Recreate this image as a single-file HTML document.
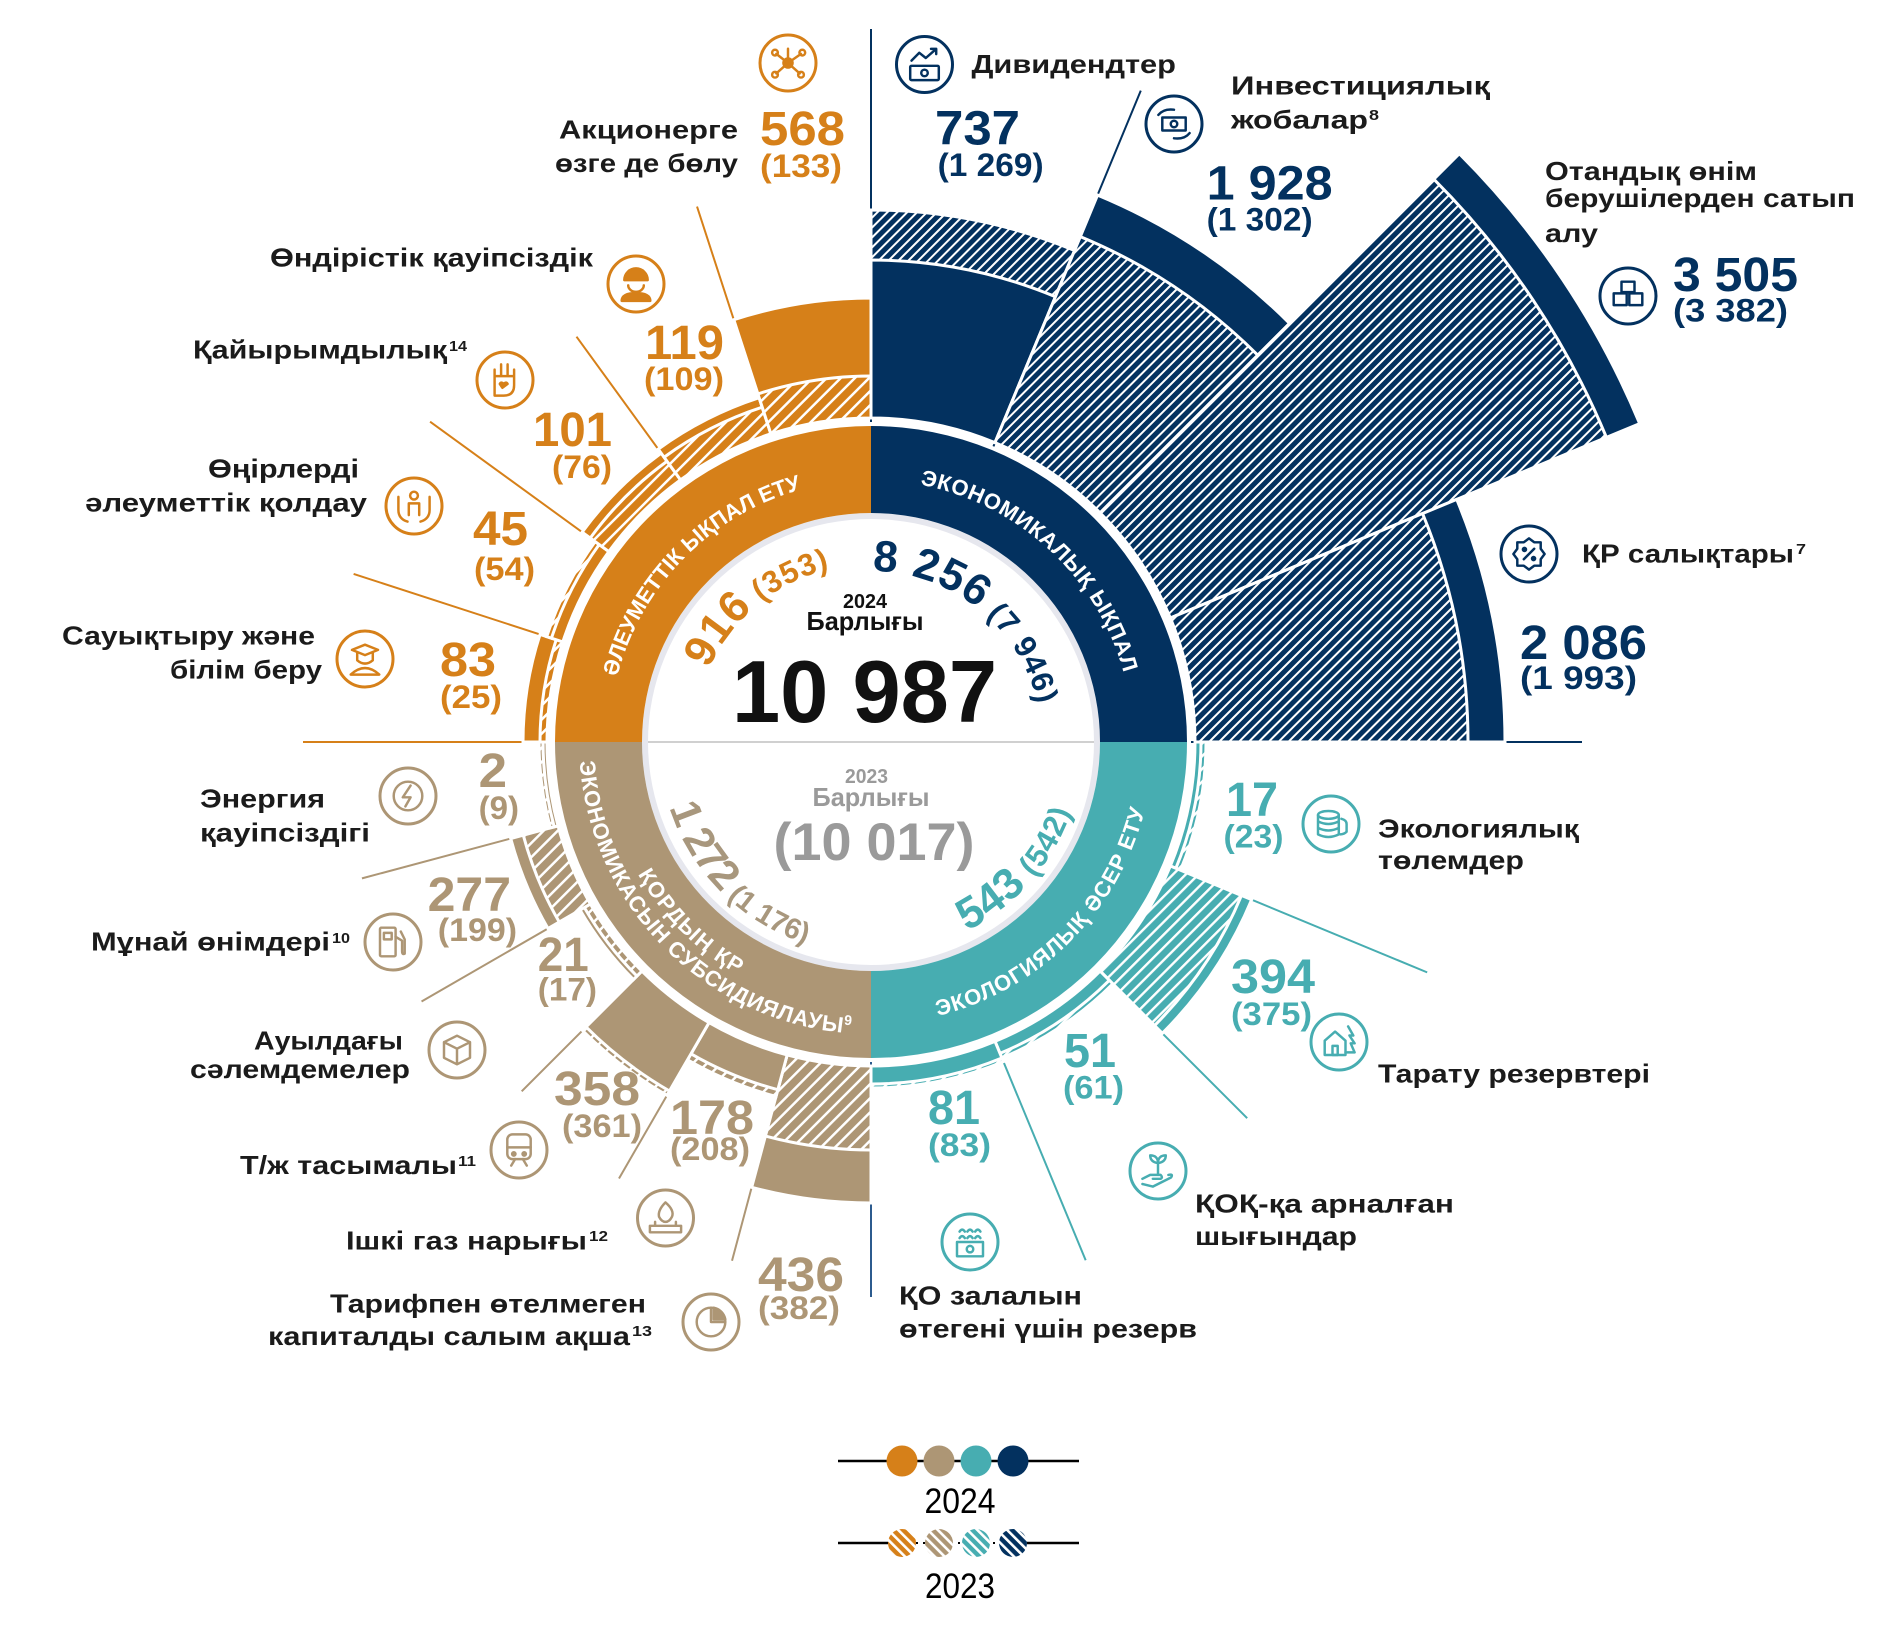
<!DOCTYPE html>
<html><head><meta charset="utf-8"><style>
html,body{margin:0;padding:0;background:#fff;}
svg{display:block;font-family:"Liberation Sans","DejaVu Sans",sans-serif;}
.l{font-size:26px;font-weight:bold;fill:#1b1b1b}
.v{font-size:48px;font-weight:bold}
.p{font-size:32px;font-weight:bold}
.s{font-size:15px;font-weight:bold;fill:#1b1b1b}
.o{fill:#d68019}.n{fill:#03315f}.t{fill:#47adb1}.b{fill:#ad9675}
.bt{font-size:22px;font-weight:bold;fill:#fff}
</style></head><body>
<svg width="1899" height="1628" viewBox="0 0 1899 1628" xmlns="http://www.w3.org/2000/svg">
<defs>
<pattern id="n270" patternUnits="userSpaceOnUse" width="7" height="7" patternTransform="rotate(135)"><rect width="7" height="7" fill="#03315f"/><rect width="2" height="7" fill="#fff"/></pattern>
<pattern id="n292" patternUnits="userSpaceOnUse" width="7" height="7" patternTransform="rotate(112.5)"><rect width="7" height="7" fill="#03315f"/><rect width="2" height="7" fill="#fff"/></pattern>
<pattern id="n315" patternUnits="userSpaceOnUse" width="7" height="7" patternTransform="rotate(90)"><rect width="7" height="7" fill="#03315f"/><rect width="2" height="7" fill="#fff"/></pattern>
<pattern id="n337" patternUnits="userSpaceOnUse" width="7" height="7" patternTransform="rotate(67.5)"><rect width="7" height="7" fill="#03315f"/><rect width="2" height="7" fill="#fff"/></pattern>
<pattern id="t0" patternUnits="userSpaceOnUse" width="9" height="9" patternTransform="rotate(45)"><rect width="9" height="9" fill="#47adb1"/><rect width="2.4" height="9" fill="#fff"/></pattern>
<pattern id="t22" patternUnits="userSpaceOnUse" width="9" height="9" patternTransform="rotate(22.5)"><rect width="9" height="9" fill="#47adb1"/><rect width="2.4" height="9" fill="#fff"/></pattern>
<pattern id="t45" patternUnits="userSpaceOnUse" width="9" height="9" patternTransform="rotate(0)"><rect width="9" height="9" fill="#47adb1"/><rect width="2.4" height="9" fill="#fff"/></pattern>
<pattern id="t67" patternUnits="userSpaceOnUse" width="9" height="9" patternTransform="rotate(-22.5)"><rect width="9" height="9" fill="#47adb1"/><rect width="2.4" height="9" fill="#fff"/></pattern>
<pattern id="b90" patternUnits="userSpaceOnUse" width="10" height="10" patternTransform="rotate(-45)"><rect width="10" height="10" fill="#ad9675"/><rect width="2.5" height="10" fill="#fff"/></pattern>
<pattern id="b105" patternUnits="userSpaceOnUse" width="10" height="10" patternTransform="rotate(-60)"><rect width="10" height="10" fill="#ad9675"/><rect width="2.5" height="10" fill="#fff"/></pattern>
<pattern id="b120" patternUnits="userSpaceOnUse" width="10" height="10" patternTransform="rotate(-75)"><rect width="10" height="10" fill="#ad9675"/><rect width="2.5" height="10" fill="#fff"/></pattern>
<pattern id="b135" patternUnits="userSpaceOnUse" width="10" height="10" patternTransform="rotate(-90)"><rect width="10" height="10" fill="#ad9675"/><rect width="2.5" height="10" fill="#fff"/></pattern>
<pattern id="b150" patternUnits="userSpaceOnUse" width="10" height="10" patternTransform="rotate(-105)"><rect width="10" height="10" fill="#ad9675"/><rect width="2.5" height="10" fill="#fff"/></pattern>
<pattern id="b165" patternUnits="userSpaceOnUse" width="10" height="10" patternTransform="rotate(-120)"><rect width="10" height="10" fill="#ad9675"/><rect width="2.5" height="10" fill="#fff"/></pattern>
<pattern id="o180" patternUnits="userSpaceOnUse" width="10" height="10" patternTransform="rotate(-135)"><rect width="10" height="10" fill="#d68019"/><rect width="2.5" height="10" fill="#fff"/></pattern>
<pattern id="o198" patternUnits="userSpaceOnUse" width="10" height="10" patternTransform="rotate(-153)"><rect width="10" height="10" fill="#d68019"/><rect width="2.5" height="10" fill="#fff"/></pattern>
<pattern id="o216" patternUnits="userSpaceOnUse" width="10" height="10" patternTransform="rotate(-171)"><rect width="10" height="10" fill="#d68019"/><rect width="2.5" height="10" fill="#fff"/></pattern>
<pattern id="o234" patternUnits="userSpaceOnUse" width="10" height="10" patternTransform="rotate(-189)"><rect width="10" height="10" fill="#d68019"/><rect width="2.5" height="10" fill="#fff"/></pattern>
<pattern id="o252" patternUnits="userSpaceOnUse" width="10" height="10" patternTransform="rotate(-207)"><rect width="10" height="10" fill="#d68019"/><rect width="2.5" height="10" fill="#fff"/></pattern>
<pattern id="lo" patternUnits="userSpaceOnUse" width="7" height="7" patternTransform="rotate(-45)"><rect width="7" height="7" fill="#d68019"/><rect width="2.6" height="7" fill="#fff"/></pattern>
<pattern id="lb" patternUnits="userSpaceOnUse" width="7" height="7" patternTransform="rotate(-45)"><rect width="7" height="7" fill="#ad9675"/><rect width="2.6" height="7" fill="#fff"/></pattern>
<pattern id="lt" patternUnits="userSpaceOnUse" width="7" height="7" patternTransform="rotate(-45)"><rect width="7" height="7" fill="#47adb1"/><rect width="2.6" height="7" fill="#fff"/></pattern>
<pattern id="ln" patternUnits="userSpaceOnUse" width="7" height="7" patternTransform="rotate(-45)"><rect width="7" height="7" fill="#03315f"/><rect width="2.6" height="7" fill="#fff"/></pattern>
<path id="tpSoc" d="M-199.23 170.16A262 262 0 0 1 166.65 -202.16"/>
<path id="tpEco" d="M-175.99 -194.09A262 262 0 0 1 207.02 160.58"/>
<path id="tpEnv" d="M-181.27 216.02A282 282 0 0 0 216.02 -181.27"/>
<path id="tpSub1" d="M-205.30 -172.27A268 268 0 0 0 172.27 205.30"/>
<path id="tpSub2" d="M-223.68 -187.69A292 292 0 0 0 187.69 223.68"/>
<path id="tp916" d="M-146.70 100.82A178 178 0 0 1 126.96 -124.76"/>
<path id="tp8256" d="M-123.01 -118.79A171 171 0 0 1 141.77 95.62"/>
<path id="tp1272" d="M-162.40 -136.27A212 212 0 0 0 136.27 162.40"/>
<path id="tp543" d="M-124.61 171.51A212 212 0 0 0 152.50 -147.27"/>
</defs>

<rect width="1899" height="1628" fill="#fff"/>

<g transform="translate(871 742)">
  <g stroke="#d68019" stroke-width="2">
    <line x1="330" y1="0" x2="563" y2="0" transform="rotate(252)"/>
    <line x1="330" y1="0" x2="501" y2="0" transform="rotate(234)"/>
    <line x1="330" y1="0" x2="545" y2="0" transform="rotate(216)"/>
    <line x1="330" y1="0" x2="544" y2="0" transform="rotate(198)"/>
    <line x1="330" y1="0" x2="568" y2="0" transform="rotate(180)"/>
  </g>
  <g stroke="#ad9675" stroke-width="2">
    <line x1="330" y1="0" x2="527" y2="0" transform="rotate(165)"/>
    <line x1="330" y1="0" x2="519" y2="0" transform="rotate(150)"/>
    <line x1="330" y1="0" x2="494" y2="0" transform="rotate(135)"/>
    <line x1="330" y1="0" x2="504" y2="0" transform="rotate(120)"/>
    <line x1="330" y1="0" x2="537" y2="0" transform="rotate(105)"/>
  </g>
  <line x1="320" y1="0" x2="555" y2="0" transform="rotate(90)" stroke="#2c5b8e" stroke-width="2"/>
  <g stroke="#47adb1" stroke-width="2">
    <line x1="330" y1="0" x2="602" y2="0" transform="rotate(22.5)"/>
    <line x1="330" y1="0" x2="532" y2="0" transform="rotate(45)"/>
    <line x1="330" y1="0" x2="561" y2="0" transform="rotate(67.5)"/>
  </g>
  <g stroke="#03315f" stroke-width="2">
    <line x1="320" y1="0" x2="713" y2="0" transform="rotate(270)"/>
    <line x1="320" y1="0" x2="705" y2="0" transform="rotate(292.5)"/>
    <line x1="320" y1="0" x2="711" y2="0"/>
  </g>

  <circle r="229" fill="#e6e7ee"/>
  <circle r="223" fill="#fff"/>
  <line x1="-223" y1="0" x2="223" y2="0" stroke="#b3b3b3" stroke-width="1.2"/>

  <path d="M229 0L316 0A316 316 0 0 1 0 316L0 229A229 229 0 0 0 229 0Z" fill="#47adb1"/>
  <path d="M229 0L316 0A316 316 0 0 1 0 316L0 229A229 229 0 0 0 229 0Z" fill="#ad9675" transform="rotate(90)"/>
  <path d="M229 0L316 0A316 316 0 0 1 0 316L0 229A229 229 0 0 0 229 0Z" fill="#d68019" transform="rotate(180)"/>
  <path d="M229 0L316 0A316 316 0 0 1 0 316L0 229A229 229 0 0 0 229 0Z" fill="#03315f" transform="rotate(270)"/>

  <g stroke="#fff" stroke-width="3" stroke-linejoin="miter">
    <path transform="rotate(270)" fill="url(#n270)" d="M324 0L532 0A532 532 0 0 1 491.50 203.59L299.34 123.99A324 324 0 0 0 324 0Z"/>
    <path transform="rotate(270)" fill="#03315f" d="M324 0L482 0A482 482 0 0 1 445.31 184.45L299.34 123.99A324 324 0 0 0 324 0Z"/>
    <path transform="rotate(292.5)" fill="#03315f" d="M324 0L592 0A592 592 0 0 1 546.94 226.55L299.34 123.99A324 324 0 0 0 324 0Z"/>
    <path transform="rotate(292.5)" fill="url(#n292)" d="M324 0L547 0A547 547 0 0 1 505.36 209.33L299.34 123.99A324 324 0 0 0 324 0Z"/>
    <path transform="rotate(315)" fill="#03315f" d="M324 0L832 0A832 832 0 0 1 768.67 318.39L299.34 123.99A324 324 0 0 0 324 0Z"/>
    <path transform="rotate(315)" fill="url(#n315)" d="M324 0L796 0A796 796 0 0 1 735.41 304.62L299.34 123.99A324 324 0 0 0 324 0Z"/>
    <path transform="rotate(337.5)" fill="#03315f" d="M324 0L634 0A634 634 0 0 1 585.74 242.62L299.34 123.99A324 324 0 0 0 324 0Z"/>
    <path transform="rotate(337.5)" fill="url(#n337)" d="M324 0L597 0A597 597 0 0 1 551.56 228.46L299.34 123.99A324 324 0 0 0 324 0Z"/>
    <path transform="rotate(0)" fill="url(#t0)" d="M324 0L335 0A335 335 0 0 1 309.50 128.20L299.34 123.99A324 324 0 0 0 324 0Z"/>
    <path transform="rotate(0)" fill="#47adb1" d="M324 0L330 0A330 330 0 0 1 304.88 126.29L299.34 123.99A324 324 0 0 0 324 0Z"/>
    <path transform="rotate(22.5)" fill="#47adb1" d="M324 0L412 0A412 412 0 0 1 380.64 157.67L299.34 123.99A324 324 0 0 0 324 0Z"/>
    <path transform="rotate(22.5)" fill="url(#t22)" d="M324 0L401 0A401 401 0 0 1 370.48 153.46L299.34 123.99A324 324 0 0 0 324 0Z"/>
    <path transform="rotate(45)" fill="url(#t45)" d="M324 0L342 0A342 342 0 0 1 315.97 130.88L299.34 123.99A324 324 0 0 0 324 0Z"/>
    <path transform="rotate(45)" fill="#47adb1" d="M324 0L337 0A337 337 0 0 1 311.35 128.96L299.34 123.99A324 324 0 0 0 324 0Z"/>
    <path transform="rotate(67.5)" fill="url(#t67)" d="M324 0L346 0A346 346 0 0 1 319.66 132.41L299.34 123.99A324 324 0 0 0 324 0Z"/>
    <path transform="rotate(67.5)" fill="#47adb1" d="M324 0L342 0A342 342 0 0 1 315.97 130.88L299.34 123.99A324 324 0 0 0 324 0Z"/>
    <path transform="rotate(90)" fill="#ad9675" d="M324 0L461 0A461 461 0 0 1 445.29 119.32L312.96 83.86A324 324 0 0 0 324 0Z"/>
    <path transform="rotate(90)" fill="url(#b90)" d="M324 0L408 0A408 408 0 0 1 394.10 105.60L312.96 83.86A324 324 0 0 0 324 0Z"/>
    <path transform="rotate(105)" fill="url(#b105)" d="M324 0L367 0A367 367 0 0 1 354.49 94.99L312.96 83.86A324 324 0 0 0 324 0Z"/>
    <path transform="rotate(105)" fill="#ad9675" d="M324 0L360 0A360 360 0 0 1 347.73 93.17L312.96 83.86A324 324 0 0 0 324 0Z"/>
    <path transform="rotate(120)" fill="url(#b120)" d="M324 0L408 0A408 408 0 0 1 394.10 105.60L312.96 83.86A324 324 0 0 0 324 0Z"/>
    <path transform="rotate(120)" fill="#ad9675" d="M324 0L403 0A403 403 0 0 1 389.27 104.30L312.96 83.86A324 324 0 0 0 324 0Z"/>
    <path transform="rotate(135)" fill="#ad9675" d="M324 0L336 0A336 336 0 0 1 324.55 86.96L312.96 83.86A324 324 0 0 0 324 0Z"/>
    <path transform="rotate(135)" fill="url(#b135)" d="M324 0L331 0A331 331 0 0 1 319.72 85.67L312.96 83.86A324 324 0 0 0 324 0Z"/>
    <path transform="rotate(150)" fill="#ad9675" d="M324 0L373 0A373 373 0 0 1 360.29 96.54L312.96 83.86A324 324 0 0 0 324 0Z"/>
    <path transform="rotate(150)" fill="url(#b150)" d="M324 0L360 0A360 360 0 0 1 347.73 93.17L312.96 83.86A324 324 0 0 0 324 0Z"/>
    <path transform="rotate(165)" fill="url(#b165)" d="M324 0L332 0A332 332 0 0 1 320.69 85.93L312.96 83.86A324 324 0 0 0 324 0Z"/>
    <path transform="rotate(165)" fill="#ad9675" d="M324 0L328 0A328 328 0 0 1 316.82 84.89L312.96 83.86A324 324 0 0 0 324 0Z"/>
    <path transform="rotate(180)" fill="#d68019" d="M324 0L348 0A348 348 0 0 1 330.97 107.54L308.14 100.12A324 324 0 0 0 324 0Z"/>
    <path transform="rotate(180)" fill="url(#o180)" d="M324 0L331 0A331 331 0 0 1 314.80 102.28L308.14 100.12A324 324 0 0 0 324 0Z"/>
    <path transform="rotate(198)" fill="url(#o198)" d="M324 0L341 0A341 341 0 0 1 324.31 105.37L308.14 100.12A324 324 0 0 0 324 0Z"/>
    <path transform="rotate(198)" fill="#d68019" d="M324 0L336 0A336 336 0 0 1 319.55 103.83L308.14 100.12A324 324 0 0 0 324 0Z"/>
    <path transform="rotate(216)" fill="#d68019" d="M324 0L357 0A357 357 0 0 1 339.53 110.32L308.14 100.12A324 324 0 0 0 324 0Z"/>
    <path transform="rotate(216)" fill="url(#o216)" d="M324 0L347 0A347 347 0 0 1 330.02 107.23L308.14 100.12A324 324 0 0 0 324 0Z"/>
    <path transform="rotate(234)" fill="#d68019" d="M324 0L362 0A362 362 0 0 1 344.28 111.86L308.14 100.12A324 324 0 0 0 324 0Z"/>
    <path transform="rotate(234)" fill="url(#o234)" d="M324 0L352 0A352 352 0 0 1 334.77 108.77L308.14 100.12A324 324 0 0 0 324 0Z"/>
    <path transform="rotate(252)" fill="#d68019" d="M324 0L444 0A444 444 0 0 1 422.27 137.20L308.14 100.12A324 324 0 0 0 324 0Z"/>
    <path transform="rotate(252)" fill="url(#o252)" d="M324 0L366 0A366 366 0 0 1 348.09 113.10L308.14 100.12A324 324 0 0 0 324 0Z"/>
  </g>

  <text class="bt" text-anchor="middle"><textPath href="#tpSoc" startOffset="50%">ӘЛЕУМЕТТІК ЫҚПАЛ ЕТУ</textPath></text>
  <text class="bt" text-anchor="middle" letter-spacing="0.6"><textPath href="#tpEco" startOffset="50%">ЭКОНОМИКАЛЫҚ ЫҚПАЛ</textPath></text>
  <text class="bt" text-anchor="middle" letter-spacing="1"><textPath href="#tpEnv" startOffset="50%">ЭКОЛОГИЯЛЫҚ ӘСЕР ЕТУ</textPath></text>
  <text class="bt" text-anchor="middle" letter-spacing="1.5"><textPath href="#tpSub1" startOffset="50%">ҚОРДЫҢ ҚР</textPath></text>
  <text class="bt" text-anchor="middle" letter-spacing="0.8"><textPath href="#tpSub2" startOffset="50%">ЭКОНОМИКАСЫН СУБСИДИЯЛАУЫ<tspan font-size="14" dy="-8">9</tspan></textPath></text>

  <text font-weight="bold" fill="#d68019" text-anchor="middle" letter-spacing="1"><textPath href="#tp916" startOffset="50%"><tspan font-size="44">916</tspan><tspan font-size="31"> (353)</tspan></textPath></text>
  <text font-weight="bold" fill="#03315f" text-anchor="middle" letter-spacing="1"><textPath href="#tp8256" startOffset="50%"><tspan font-size="44">8 256</tspan><tspan font-size="31"> (7 946)</tspan></textPath></text>
  <text font-weight="bold" fill="#a8977d" text-anchor="middle"><textPath href="#tp1272" startOffset="50%"><tspan font-size="42" letter-spacing="-1">1 272</tspan><tspan font-size="29"> (1 176)</tspan></textPath></text>
  <text font-weight="bold" fill="#47adb1" text-anchor="middle" letter-spacing="1"><textPath href="#tp543" startOffset="50%"><tspan font-size="44">543</tspan><tspan font-size="31"> (542)</tspan></textPath></text>
</g>

<text x="865" y="608" font-size="20" font-weight="bold" fill="#111" text-anchor="middle" textLength="44" lengthAdjust="spacingAndGlyphs">2024</text>
<text x="865" y="630" font-size="26" font-weight="bold" fill="#111" text-anchor="middle" textLength="117" lengthAdjust="spacingAndGlyphs">Барлығы</text>
<text x="864.5" y="722" font-size="88" font-weight="bold" fill="#111" text-anchor="middle" textLength="265" lengthAdjust="spacingAndGlyphs">10 987</text>
<text x="866.5" y="783" font-size="20" font-weight="bold" fill="#9a9a9a" text-anchor="middle" textLength="43" lengthAdjust="spacingAndGlyphs">2023</text>
<text x="871" y="806" font-size="26" font-weight="bold" fill="#9a9a9a" text-anchor="middle" textLength="117" lengthAdjust="spacingAndGlyphs">Барлығы</text>
<text x="874" y="860" font-size="53" font-weight="bold" fill="#9a9a9a" text-anchor="middle" textLength="201" lengthAdjust="spacingAndGlyphs">(10 017)</text>

<g>
<text class="l" x="559" y="138.5" textLength="179" lengthAdjust="spacingAndGlyphs">Акционерге</text>
<text class="l" x="555" y="172" textLength="183" lengthAdjust="spacingAndGlyphs">өзге де бөлу</text>
<text class="v o" x="760" y="145" textLength="85" lengthAdjust="spacingAndGlyphs">568</text>
<text class="p o" x="760" y="177" textLength="82" lengthAdjust="spacingAndGlyphs">(133)</text>
<text class="l" x="270" y="266.5" textLength="323" lengthAdjust="spacingAndGlyphs">Өндірістік қауіпсіздік</text>
<text class="v o" x="645" y="359" textLength="79" lengthAdjust="spacingAndGlyphs">119</text>
<text class="p o" x="644" y="390" textLength="80" lengthAdjust="spacingAndGlyphs">(109)</text>
<text class="l" x="193" y="358.5" textLength="254" lengthAdjust="spacingAndGlyphs">Қайырымдылық</text>
<text class="s" x="449" y="351" textLength="18" lengthAdjust="spacingAndGlyphs">14</text>
<text class="v o" x="533" y="446" textLength="79" lengthAdjust="spacingAndGlyphs">101</text>
<text class="p o" x="552" y="478" textLength="60" lengthAdjust="spacingAndGlyphs">(76)</text>
<text class="l" x="208" y="477.5" textLength="151" lengthAdjust="spacingAndGlyphs">Өңірлерді</text>
<text class="l" x="85" y="511.5" textLength="282" lengthAdjust="spacingAndGlyphs">әлеуметтік қолдау</text>
<text class="v o" x="473" y="545" textLength="55" lengthAdjust="spacingAndGlyphs">45</text>
<text class="p o" x="474" y="580" textLength="61" lengthAdjust="spacingAndGlyphs">(54)</text>
<text class="l" x="62" y="644.5" textLength="253" lengthAdjust="spacingAndGlyphs">Сауықтыру және</text>
<text class="l" x="170" y="678.5" textLength="152" lengthAdjust="spacingAndGlyphs">білім беру</text>
<text class="v o" x="440" y="676" textLength="56" lengthAdjust="spacingAndGlyphs">83</text>
<text class="p o" x="440" y="708" textLength="62" lengthAdjust="spacingAndGlyphs">(25)</text>

<text class="l" x="971.5" y="73" textLength="204.5" lengthAdjust="spacingAndGlyphs">Дивидендтер</text>
<text class="v n" x="935" y="144.5" textLength="85" lengthAdjust="spacingAndGlyphs">737</text>
<text class="p n" x="937.6" y="176" textLength="106" lengthAdjust="spacingAndGlyphs">(1 269)</text>
<text class="l" x="1231" y="94.5" textLength="259" lengthAdjust="spacingAndGlyphs">Инвестициялық</text>
<text class="l" x="1231" y="128.5" textLength="137" lengthAdjust="spacingAndGlyphs">жобалар</text>
<text class="s" x="1369" y="120" textLength="10" lengthAdjust="spacingAndGlyphs">8</text>
<text class="v n" x="1206.6" y="199.5" textLength="126" lengthAdjust="spacingAndGlyphs">1 928</text>
<text class="p n" x="1206.6" y="230.5" textLength="106" lengthAdjust="spacingAndGlyphs">(1 302)</text>
<text class="l" x="1545" y="180" textLength="212" lengthAdjust="spacingAndGlyphs">Отандық өнім</text>
<text class="l" x="1545" y="207" textLength="310" lengthAdjust="spacingAndGlyphs">берушілерден сатып</text>
<text class="l" x="1545" y="242" textLength="53" lengthAdjust="spacingAndGlyphs">алу</text>
<text class="v n" x="1673" y="291" textLength="125" lengthAdjust="spacingAndGlyphs">3 505</text>
<text class="p n" x="1673" y="321.6" textLength="115" lengthAdjust="spacingAndGlyphs">(3 382)</text>
<text class="l" x="1582" y="562.5" textLength="212" lengthAdjust="spacingAndGlyphs">ҚР салықтары</text>
<text class="s" x="1796" y="554" textLength="10" lengthAdjust="spacingAndGlyphs">7</text>
<text class="v n" x="1520" y="659" textLength="127" lengthAdjust="spacingAndGlyphs">2 086</text>
<text class="p n" x="1520" y="689" textLength="117" lengthAdjust="spacingAndGlyphs">(1 993)</text>

<text class="v t" x="1226" y="816" textLength="52" lengthAdjust="spacingAndGlyphs">17</text>
<text class="p t" x="1223.5" y="847.5" textLength="60" lengthAdjust="spacingAndGlyphs">(23)</text>
<text class="l" x="1378" y="837.5" textLength="201" lengthAdjust="spacingAndGlyphs">Экологиялық</text>
<text class="l" x="1378" y="869" textLength="146" lengthAdjust="spacingAndGlyphs">төлемдер</text>
<text class="v t" x="1231" y="993" textLength="84" lengthAdjust="spacingAndGlyphs">394</text>
<text class="p t" x="1231" y="1025" textLength="81" lengthAdjust="spacingAndGlyphs">(375)</text>
<text class="l" x="1378" y="1082.5" textLength="272" lengthAdjust="spacingAndGlyphs">Тарату резервтері</text>
<text class="v t" x="1064" y="1067" textLength="52" lengthAdjust="spacingAndGlyphs">51</text>
<text class="p t" x="1063" y="1098.5" textLength="61" lengthAdjust="spacingAndGlyphs">(61)</text>
<text class="v t" x="928" y="1124" textLength="52" lengthAdjust="spacingAndGlyphs">81</text>
<text class="p t" x="928" y="1156" textLength="63" lengthAdjust="spacingAndGlyphs">(83)</text>
<text class="l" x="1195" y="1212.5" textLength="259" lengthAdjust="spacingAndGlyphs">ҚОҚ-қа арналған</text>
<text class="l" x="1195" y="1245" textLength="162" lengthAdjust="spacingAndGlyphs">шығындар</text>
<text class="l" x="899" y="1304.5" textLength="183" lengthAdjust="spacingAndGlyphs">ҚО залалын</text>
<text class="l" x="899" y="1337.5" textLength="298" lengthAdjust="spacingAndGlyphs">өтегені үшін резерв</text>

<text class="v b" x="478.6" y="787" textLength="28.4" lengthAdjust="spacingAndGlyphs">2</text>
<text class="p b" x="478.6" y="819" textLength="40.4" lengthAdjust="spacingAndGlyphs">(9)</text>
<text class="l" x="200" y="807.5" textLength="125" lengthAdjust="spacingAndGlyphs">Энергия</text>
<text class="l" x="200" y="841.5" textLength="170" lengthAdjust="spacingAndGlyphs">қауіпсіздігі</text>
<text class="v b" x="427.6" y="911" textLength="83.4" lengthAdjust="spacingAndGlyphs">277</text>
<text class="p b" x="437.8" y="941" textLength="79.2" lengthAdjust="spacingAndGlyphs">(199)</text>
<text class="l" x="91" y="950.5" textLength="239" lengthAdjust="spacingAndGlyphs">Мұнай өнімдері</text>
<text class="s" x="332" y="943" textLength="18" lengthAdjust="spacingAndGlyphs">10</text>
<text class="v b" x="537.8" y="971" textLength="51" lengthAdjust="spacingAndGlyphs">21</text>
<text class="p b" x="537.8" y="1000.6" textLength="59.2" lengthAdjust="spacingAndGlyphs">(17)</text>
<text class="l" x="254" y="1049.5" textLength="149" lengthAdjust="spacingAndGlyphs">Ауылдағы</text>
<text class="l" x="190" y="1078" textLength="220" lengthAdjust="spacingAndGlyphs">сәлемдемелер</text>
<text class="v b" x="554" y="1105" textLength="86" lengthAdjust="spacingAndGlyphs">358</text>
<text class="p b" x="562" y="1137" textLength="80" lengthAdjust="spacingAndGlyphs">(361)</text>
<text class="l" x="240" y="1174" textLength="217" lengthAdjust="spacingAndGlyphs">Т/ж тасымалы</text>
<text class="s" x="458" y="1166" textLength="18" lengthAdjust="spacingAndGlyphs">11</text>
<text class="v b" x="670" y="1134" textLength="84" lengthAdjust="spacingAndGlyphs">178</text>
<text class="p b" x="670" y="1160" textLength="80" lengthAdjust="spacingAndGlyphs">(208)</text>
<text class="l" x="346" y="1249.5" textLength="241" lengthAdjust="spacingAndGlyphs">Ішкі газ нарығы</text>
<text class="s" x="589" y="1241" textLength="19" lengthAdjust="spacingAndGlyphs">12</text>
<text class="v b" x="758" y="1291" textLength="86" lengthAdjust="spacingAndGlyphs">436</text>
<text class="p b" x="758" y="1319" textLength="82" lengthAdjust="spacingAndGlyphs">(382)</text>
<text class="l" x="330" y="1312.5" textLength="316" lengthAdjust="spacingAndGlyphs">Тарифпен өтелмеген</text>
<text class="l" x="268" y="1345" textLength="362" lengthAdjust="spacingAndGlyphs">капиталды салым ақша</text>
<text class="s" x="632" y="1336" textLength="20" lengthAdjust="spacingAndGlyphs">13</text>
</g>

<g fill="none" stroke-linecap="round" stroke-linejoin="round">
 <g transform="translate(788 63)" stroke="#d68019"><circle r="28" stroke-width="3" fill="#fff"/><g transform="scale(1.3)" stroke-width="1.9"><circle r="3.5" fill="#d68019"/><path d="M0 0L-9 -7M0 0L10 -7M0 0L-9 8M0 0L9 8M0 0L0 -11"/><circle cx="-10" cy="-8" r="2.2"/><circle cx="11" cy="-8" r="2.2"/><circle cx="-10" cy="9" r="2.2"/><circle cx="10" cy="9" r="2.2"/></g></g>
 <g transform="translate(636 284)" stroke="#d68019"><circle r="28" stroke-width="3" fill="#fff"/><g transform="scale(1.3)" stroke-width="1.9"><path d="M-9 -3A9 9 0 0 1 9 -3Z" fill="#d68019"/><path d="M-6 1A6 5 0 0 0 6 1"/><path d="M-11 13Q-11 7 0 7Q11 7 11 13Z" fill="#d68019"/></g></g>
 <g transform="translate(505 380)" stroke="#d68019"><circle r="28" stroke-width="3" fill="#fff"/><g transform="scale(1.3)" stroke-width="1.9"><path d="M-8 11V-8M-3 -3V-12M2 -3V-12M7 -3V-8M-8 -3H7V4Q7 12 -1 12H-8Z"/><path d="M-2 6L-4 3Q-3 1 -1 3Q1 1 2 3Z" fill="#d68019"/></g></g>
 <g transform="translate(414 506)" stroke="#d68019"><circle r="28" stroke-width="3" fill="#fff"/><g transform="scale(1.3)" stroke-width="1.9"><circle cx="0" cy="-8" r="3"/><path d="M-4 7V-2H4V7M-12 -7V3Q-12 10 -5 12M12 -7V3Q12 10 5 12"/></g></g>
 <g transform="translate(365 659)" stroke="#d68019"><circle r="28" stroke-width="3" fill="#fff"/><g transform="scale(1.3)" stroke-width="1.9"><path d="M-10 -7L0 -11L10 -7L0 -3Z"/><path d="M-6 -5V1Q0 6 6 1V-5"/><path d="M-11 12Q0 2 11 12Z"/></g></g>
 <g transform="translate(924.5 64.5)" stroke="#03315f"><circle r="28" stroke-width="3" fill="#fff"/><g transform="scale(1.3)" stroke-width="1.9"><rect x="-11" y="1" width="22" height="11" rx="1"/><circle cx="0" cy="6.5" r="2.5"/><path d="M-10 -3L-4 -9L1 -5L9 -12M5 -12H9V-8"/></g></g>
 <g transform="translate(1174 124)" stroke="#03315f"><circle r="28" stroke-width="3" fill="#fff"/><g transform="scale(1.3)" stroke-width="1.9"><rect x="-9" y="-5" width="18" height="10"/><circle r="2.5"/><path d="M-12 -7Q-8 -12 0 -11M12 7Q8 12 0 11"/></g></g>
 <g transform="translate(1628 296)" stroke="#03315f"><circle r="28" stroke-width="3" fill="#fff"/><g transform="scale(1.3)" stroke-width="1.9"><rect x="-5" y="-11" width="10" height="8"/><rect x="-11" y="-2" width="10" height="9"/><rect x="1" y="-2" width="10" height="9"/></g></g>
 <g transform="translate(1529 554)" stroke="#03315f"><circle r="28" stroke-width="3" fill="#fff"/><g transform="scale(1.3)" stroke-width="1.9"><path d="M0 -12L4 -9L9 -9L9 -4L12 0L9 4L9 9L4 9L0 12L-4 9L-9 9L-9 4L-12 0L-9 -4L-9 -9L-4 -9Z"/><path d="M-4 4L4 -4"/><circle cx="-3.5" cy="-3.5" r="1.2" fill="#03315f"/><circle cx="3.5" cy="3.5" r="1.2" fill="#03315f"/></g></g>
 <g transform="translate(1331 824)" stroke="#47adb1"><circle r="28" stroke-width="3" fill="#fff"/><g transform="scale(1.3)" stroke-width="1.9"><ellipse cx="-2" cy="-7" rx="8" ry="3"/><path d="M-10 -7V8Q-2 12 6 8V-7M-10 -2Q-2 2 6 -2M-10 3Q-2 7 6 3M8 -4Q12 -3 12 0V6Q10 8 7 8"/></g></g>
 <g transform="translate(1339 1042)" stroke="#47adb1"><circle r="28" stroke-width="3" fill="#fff"/><g transform="scale(1.3)" stroke-width="1.9"><path d="M-11 10V-1L-3 -8L5 -1V10Z"/><path d="M7 -12L11 -5H8L12 1H9L12 8H5"/><rect x="-5" y="3" width="4" height="7"/></g></g>
 <g transform="translate(1158 1171)" stroke="#47adb1"><circle r="28" stroke-width="3" fill="#fff"/><g transform="scale(1.3)" stroke-width="1.9"><path d="M0 2V-6M0 -6Q-6 -7 -6 -12Q0 -12 0 -6M0 -6Q6 -7 6 -12Q0 -12 0 -6"/><path d="M-12 6L-6 3H2Q4 5 2 6H-4M-12 10L-4 12L10 5Q12 2 8 3"/></g></g>
 <g transform="translate(970 1242)" stroke="#47adb1"><circle r="28" stroke-width="3" fill="#fff"/><g transform="scale(1.3)" stroke-width="1.9"><rect x="-10" y="0" width="20" height="11"/><circle cx="0" cy="5.5" r="2.5"/><path d="M-8 -3Q-6 -6 -4 -3M-2 -3Q0 -6 2 -3M4 -3Q6 -6 8 -3M-8 -8Q-6 -11 -4 -8M-2 -8Q0 -11 2 -8M4 -8Q6 -11 8 -8"/></g></g>
 <g transform="translate(408 796)" stroke="#ad9675"><circle r="28" stroke-width="3" fill="#fff"/><g transform="scale(1.3)" stroke-width="1.9"><circle r="11"/><path d="M2 -8L-4 1H2L-2 8"/></g></g>
 <g transform="translate(393 942)" stroke="#ad9675"><circle r="28" stroke-width="3" fill="#fff"/><g transform="scale(1.3)" stroke-width="1.9"><rect x="-10" y="-11" width="12" height="22" rx="1"/><path d="M-7 -7H-1V-2H-7Z"/><path d="M2 -4L7 -1V7Q7 10 9 9V-2L6 -8"/></g></g>
 <g transform="translate(457 1050)" stroke="#ad9675"><circle r="28" stroke-width="3" fill="#fff"/><g transform="scale(1.3)" stroke-width="1.9"><path d="M0 -11L10 -6V6L0 11L-10 6V-6ZM-10 -6L0 -1L10 -6M0 -1V11"/></g></g>
 <g transform="translate(519 1150)" stroke="#ad9675"><circle r="28" stroke-width="3" fill="#fff"/><g transform="scale(1.3)" stroke-width="1.9"><rect x="-9" y="-12" width="18" height="19" rx="4"/><path d="M-9 -2H9M-6 12L-3 7M6 12L3 7"/><circle cx="-4" cy="3" r="1.3" fill="#ad9675"/><circle cx="4" cy="3" r="1.3" fill="#ad9675"/></g></g>
 <g transform="translate(665.5 1218)" stroke="#ad9675"><circle r="28" stroke-width="3" fill="#fff"/><g transform="scale(1.3)" stroke-width="1.9"><path d="M0 -12Q7 -6 5 -1Q3 3 0 3Q-3 3 -5 -1Q-6 -6 0 -12Z"/><path d="M-12 6H12V11H-12ZM-8 6V3M8 6V3"/></g></g>
 <g transform="translate(711 1322)" stroke="#ad9675"><circle r="28" stroke-width="3" fill="#fff"/><g transform="scale(1.3)" stroke-width="1.9"><circle r="11"/><path d="M2 -2V-11A11 11 0 0 1 11 -2Z" fill="#ad9675"/><path d="M0 -11V0H11"/></g></g>
</g>

<line x1="838" y1="1461" x2="1079" y2="1461" stroke="#000" stroke-width="2.5"/>
<circle cx="902" cy="1461" r="15.5" fill="#d68019"/>
<circle cx="939" cy="1461" r="15.5" fill="#ad9675"/>
<circle cx="976" cy="1461" r="15.5" fill="#47adb1"/>
<circle cx="1013" cy="1461" r="15.5" fill="#03315f"/>
<text x="960" y="1513" font-size="35" fill="#000" text-anchor="middle" textLength="71" lengthAdjust="spacingAndGlyphs">2024</text>
<line x1="838" y1="1543" x2="888" y2="1543" stroke="#000" stroke-width="2.5"/>
<line x1="1027" y1="1543" x2="1079" y2="1543" stroke="#000" stroke-width="2.5"/>
<line x1="888" y1="1543" x2="1027" y2="1543" stroke="#000" stroke-width="2" stroke-dasharray="2 5"/>
<circle cx="902" cy="1543" r="14" fill="url(#lo)"/>
<circle cx="939" cy="1543" r="14" fill="url(#lb)"/>
<circle cx="976" cy="1543" r="14" fill="url(#lt)"/>
<circle cx="1013" cy="1543" r="14" fill="url(#ln)"/>
<text x="960" y="1598" font-size="35" fill="#000" text-anchor="middle" textLength="70" lengthAdjust="spacingAndGlyphs">2023</text>
</svg>
</body></html>
